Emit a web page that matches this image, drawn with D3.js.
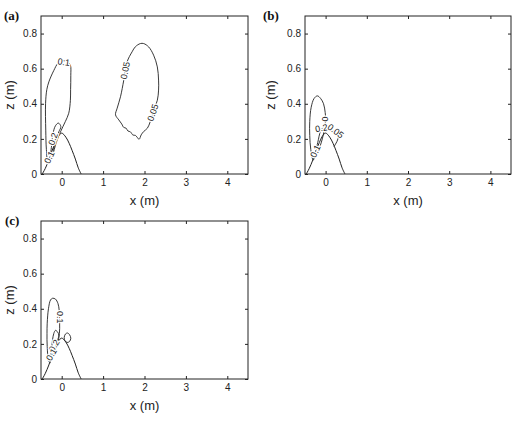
<!DOCTYPE html>
<html>
<head>
<meta charset="utf-8">
<script src="https://cdn.jsdelivr.net/npm/d3@7"></script>
<style>
  body { margin: 0; background: #fff; }
  .tick text { font-family: "Liberation Sans", Arial, sans-serif; font-size: 10px; fill: #222; }
  .tick line { stroke: #222; }
</style>
</head>
<body>
<svg id="fig"></svg>
<script>
// ---- data (x in m, z in m) ----
const xTicks = [0, 1, 2, 3, 4];
const zTicks = [0, 0.2, 0.4, 0.6, 0.8];

const bump = [[-0.47, 0], [-0.4, 0.03], [-0.31, 0.08], [-0.23, 0.135], [-0.15, 0.18], [-0.08, 0.215],
  [0, 0.233], [0.1, 0.21], [0.18, 0.175], [0.25, 0.135], [0.33, 0.085], [0.4, 0.035], [0.47, 0]];

// panel (a)
const a_far = [[1.90, 0.743], [1.78, 0.725], [1.70, 0.696], [1.58, 0.639], [1.50, 0.535], [1.42, 0.44], [1.34, 0.375],
  [1.30, 0.337], [1.38, 0.308], [1.45, 0.285], [1.50, 0.265], [1.55, 0.262], [1.60, 0.245], [1.66, 0.24],
  [1.72, 0.222], [1.78, 0.22], [1.82, 0.21], [1.87, 0.198], [1.92, 0.223], [1.98, 0.242], [2.07, 0.261],
  [2.14, 0.299], [2.22, 0.36], [2.31, 0.42], [2.34, 0.478], [2.34, 0.535], [2.31, 0.61], [2.22, 0.677],
  [2.10, 0.724], [1.98, 0.743]];
const a_outer = [[-0.33, 0.06], [-0.37, 0.14], [-0.385, 0.25], [-0.39, 0.4], [-0.36, 0.48], [-0.31, 0.525],
  [-0.19, 0.59], [-0.09, 0.63], [0.05, 0.645], [0.15, 0.635], [0.21, 0.62], [0.22, 0.56], [0.215, 0.48],
  [0.21, 0.42], [0.17, 0.346], [0.09, 0.3], [-0.03, 0.24], [-0.13, 0.18], [-0.23, 0.1], [-0.3, 0.065]];
const a_inner = [[-0.3, 0.06], [-0.25, 0.15], [-0.21, 0.23], [-0.15, 0.275], [-0.08, 0.29], [-0.02, 0.27],
  [-0.07, 0.24], [-0.13, 0.2], [-0.21, 0.13]];

// panel (b)
const b_outer = [[-0.3, 0.08], [-0.36, 0.14], [-0.385, 0.22], [-0.385, 0.3], [-0.35, 0.38], [-0.28, 0.43],
  [-0.2, 0.445], [-0.12, 0.43], [-0.05, 0.4], [-0.01, 0.35], [0, 0.31], [-0.02, 0.27], [-0.08, 0.2],
  [-0.18, 0.13], [-0.25, 0.1]];
const b_mid = [[-0.27, 0.1], [-0.19, 0.18], [-0.12, 0.245], [-0.05, 0.265], [0.02, 0.25]];
const b_right = [[0.0, 0.245], [0.1, 0.25], [0.2, 0.245], [0.3, 0.23], [0.3, 0.2], [0.24, 0.17], [0.2, 0.155]];

// panel (c)
const c_outer = [[-0.31, 0.1], [-0.35, 0.185], [-0.355, 0.26], [-0.35, 0.318], [-0.32, 0.4], [-0.27, 0.45],
  [-0.22, 0.46], [-0.15, 0.455], [-0.09, 0.43], [-0.06, 0.39], [-0.05, 0.318], [-0.055, 0.26],
  [-0.1, 0.2], [-0.2, 0.14], [-0.27, 0.11]];
const c_inner = [[-0.28, 0.09], [-0.24, 0.18], [-0.22, 0.225], [-0.19, 0.26], [-0.15, 0.277], [-0.1, 0.268],
  [-0.07, 0.25], [-0.1, 0.22], [-0.17, 0.17]];
const c_blob = [[0.06, 0.235], [0.09, 0.256], [0.14, 0.262], [0.19, 0.252], [0.22, 0.232], [0.19, 0.214],
  [0.13, 0.208], [0.08, 0.218]];

const panels = [
  { id: "(a)", left: 41, top: 16, width: 207, height: 158, idOff: 37, zOff: 27,
    lines: [{ pts: a_far, closed: true }, { pts: a_outer, closed: true }, { pts: a_inner, closed: false }],
    labels: [{ t: "0.05", x: 1.535, z: 0.59, r: -78 }, { t: "0.05", x: 2.2, z: 0.35, r: -72 },
      { t: "0.1", x: 0.05, z: 0.638, r: 8 }, { t: "0.2", x: -0.21, z: 0.2, r: -72 },
      { t: "0.1", x: -0.3, z: 0.095, r: -65 }] },
  { id: "(b)", left: 305, top: 16, width: 206, height: 158, idOff: 42, zOff: 30,
    lines: [{ pts: b_outer, closed: true }, { pts: b_mid, closed: false }, { pts: b_right, closed: false }],
    labels: [{ t: "0", x: -0.01, z: 0.314, r: 90 }, { t: "0.2", x: -0.1, z: 0.262, r: -10 },
      { t: "0.05", x: 0.245, z: 0.245, r: 37 }, { t: "0.1", x: -0.25, z: 0.13, r: -65 }] },
  { id: "(c)", left: 41, top: 221, width: 207, height: 158, idOff: 36, zOff: 27,
    lines: [{ pts: c_outer, closed: true }, { pts: c_inner, closed: false }, { pts: c_blob, closed: true }],
    labels: [{ t: "0.1", x: -0.045, z: 0.352, r: 90 }, { t: "0.2", x: -0.18, z: 0.19, r: -60 },
      { t: "0.1", x: -0.25, z: 0.14, r: -60 }] }
];

const svg = d3.select("#fig").attr("width", 512).attr("height", 421);
svg.append("rect").attr("width", 512).attr("height", 421).attr("fill", "#fff");

panels.forEach(p => {
  const x = d3.scaleLinear().domain([-0.5, 4.5]).range([p.left, p.left + p.width]);
  const z = d3.scaleLinear().domain([0, 0.9]).range([p.top + p.height, p.top]);
  const g = svg.append("g");

  g.append("g").attr("transform", `translate(0,${p.top + p.height})`)
    .call(d3.axisBottom(x).tickValues(xTicks).tickFormat(d3.format("d")).tickSizeInner(-3).tickSizeOuter(0).tickPadding(5))
    .call(s => s.select(".domain").remove());
  g.append("g").attr("transform", `translate(${p.left},0)`)
    .call(d3.axisLeft(z).tickValues(zTicks).tickFormat(d3.format("")).tickSizeInner(-3).tickSizeOuter(0).tickPadding(4))
    .call(s => s.select(".domain").remove());
  g.append("g").attr("transform", `translate(0,${p.top})`)
    .call(d3.axisTop(x).tickValues(xTicks).tickFormat("").tickSizeInner(-3).tickSizeOuter(0))
    .call(s => s.select(".domain").remove());
  g.append("g").attr("transform", `translate(${p.left + p.width},0)`)
    .call(d3.axisRight(z).tickValues(zTicks).tickFormat("").tickSizeInner(-3).tickSizeOuter(0))
    .call(s => s.select(".domain").remove());

  g.append("rect")
    .attr("x", p.left).attr("y", p.top)
    .attr("width", p.width).attr("height", p.height)
    .attr("fill", "none").attr("stroke", "#222").attr("stroke-width", 1);

  // bottom profile
  const open = d3.line().x(d => x(d[0])).y(d => z(d[1])).curve(d3.curveCatmullRom);
  const shut = d3.line().x(d => x(d[0])).y(d => z(d[1])).curve(d3.curveCatmullRomClosed);
  g.append("path").attr("d", open(bump))
    .attr("fill", "none").attr("stroke", "#222").attr("stroke-width", 1);

  // contours
  p.lines.forEach(l => {
    g.append("path").attr("d", (l.closed ? shut : open)(l.pts))
      .attr("fill", "none").attr("stroke", "#222").attr("stroke-width", 0.9);
  });

  p.labels.forEach(l => {
    g.append("text")
      .attr("transform", `translate(${x(l.x)},${z(l.z)}) rotate(${l.r})`)
      .attr("text-anchor", "middle").attr("dy", "0.35em")
      .style("font-family", "Liberation Sans, Arial, sans-serif").style("font-size", "9px")
      .attr("fill", "#222").attr("stroke", "#fff").attr("stroke-width", 2.5)
      .style("paint-order", "stroke")
      .text(l.t);
  });

  // axis titles
  g.append("text")
    .attr("x", p.left + p.width / 2).attr("y", p.top + p.height + 31)
    .attr("text-anchor", "middle")
    .style("font-family", "Liberation Sans, Arial, sans-serif").style("font-size", "13px")
    .attr("fill", "#222").text("x (m)");
  g.append("text")
    .attr("transform", `translate(${p.left - p.zOff},${p.top + p.height / 2}) rotate(-90)`)
    .attr("text-anchor", "middle")
    .style("font-family", "Liberation Sans, Arial, sans-serif").style("font-size", "13px")
    .attr("fill", "#222").text("z (m)");

  g.append("text")
    .attr("x", p.left - p.idOff).attr("y", p.top + 4)
    .style("font-family", "Liberation Serif, Times New Roman, serif").style("font-size", "13px")
    .style("font-weight", "bold").attr("fill", "#111").text(p.id);
});
</script>
</body>
</html>
